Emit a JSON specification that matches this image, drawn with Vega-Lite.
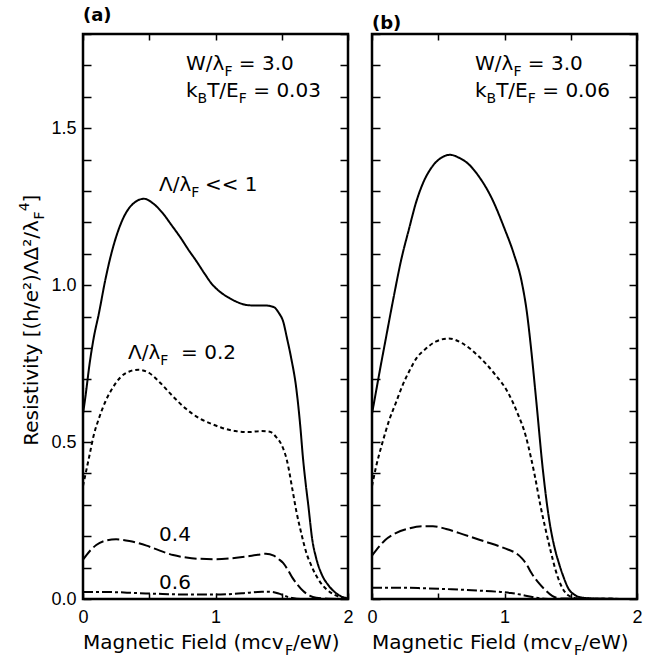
{
"$schema": "https://vega.github.io/schema/vega-lite/v6.json",
"background": "white",
"padding": {"left": 16, "top": 5, "right": 2, "bottom": 0},
"config": {
  "view": {"stroke": "black", "strokeWidth": 2.5},
  "axis": {"grid": false, "domain": false, "ticks": true, "tickColor": "black", "tickWidth": 1.5, "labelColor": "black", "labelFont": "Liberation Sans", "labelFontSize": 18, "labelFlush": false, "labelOverlap": false, "title": null, "zindex": 2},
  "text": {"font": "DejaVu Sans", "color": "black"}
},
"datasets": {
  "curves": [
    {"p":"a","s":"s1","x":0,"y":0.59},{"p":"a","s":"s1","x":0.02,"y":0.65},{"p":"a","s":"s1","x":0.05,"y":0.75},{"p":"a","s":"s1","x":0.08,"y":0.83},{"p":"a","s":"s1","x":0.12,"y":0.91},{"p":"a","s":"s1","x":0.17,"y":1.02},{"p":"a","s":"s1","x":0.22,"y":1.11},{"p":"a","s":"s1","x":0.30,"y":1.21},{"p":"a","s":"s1","x":0.38,"y":1.26},{"p":"a","s":"s1","x":0.46,"y":1.275},{"p":"a","s":"s1","x":0.53,"y":1.26},{"p":"a","s":"s1","x":0.60,"y":1.23},{"p":"a","s":"s1","x":0.67,"y":1.19},{"p":"a","s":"s1","x":0.73,"y":1.155},{"p":"a","s":"s1","x":0.80,"y":1.11},{"p":"a","s":"s1","x":0.85,"y":1.08},{"p":"a","s":"s1","x":0.92,"y":1.035},{"p":"a","s":"s1","x":0.97,"y":1.005},{"p":"a","s":"s1","x":1.03,"y":0.98},{"p":"a","s":"s1","x":1.10,"y":0.96},{"p":"a","s":"s1","x":1.17,"y":0.945},{"p":"a","s":"s1","x":1.23,"y":0.937},{"p":"a","s":"s1","x":1.30,"y":0.935},{"p":"a","s":"s1","x":1.38,"y":0.935},{"p":"a","s":"s1","x":1.44,"y":0.93},{"p":"a","s":"s1","x":1.48,"y":0.91},{"p":"a","s":"s1","x":1.51,"y":0.885},{"p":"a","s":"s1","x":1.54,"y":0.83},{"p":"a","s":"s1","x":1.57,"y":0.77},{"p":"a","s":"s1","x":1.61,"y":0.67},{"p":"a","s":"s1","x":1.64,"y":0.55},{"p":"a","s":"s1","x":1.66,"y":0.45},{"p":"a","s":"s1","x":1.68,"y":0.37},{"p":"a","s":"s1","x":1.70,"y":0.30},{"p":"a","s":"s1","x":1.73,"y":0.19},{"p":"a","s":"s1","x":1.76,"y":0.13},{"p":"a","s":"s1","x":1.80,"y":0.08},{"p":"a","s":"s1","x":1.85,"y":0.045},{"p":"a","s":"s1","x":1.90,"y":0.022},{"p":"a","s":"s1","x":1.95,"y":0.008},{"p":"a","s":"s1","x":2.0,"y":0.002},
    {"p":"a","s":"s2","x":0,"y":0.36},{"p":"a","s":"s2","x":0.02,"y":0.40},{"p":"a","s":"s2","x":0.05,"y":0.46},{"p":"a","s":"s2","x":0.08,"y":0.52},{"p":"a","s":"s2","x":0.12,"y":0.575},{"p":"a","s":"s2","x":0.17,"y":0.63},{"p":"a","s":"s2","x":0.22,"y":0.67},{"p":"a","s":"s2","x":0.28,"y":0.705},{"p":"a","s":"s2","x":0.35,"y":0.725},{"p":"a","s":"s2","x":0.42,"y":0.73},{"p":"a","s":"s2","x":0.50,"y":0.72},{"p":"a","s":"s2","x":0.58,"y":0.69},{"p":"a","s":"s2","x":0.68,"y":0.645},{"p":"a","s":"s2","x":0.78,"y":0.605},{"p":"a","s":"s2","x":0.88,"y":0.575},{"p":"a","s":"s2","x":0.97,"y":0.558},{"p":"a","s":"s2","x":1.05,"y":0.545},{"p":"a","s":"s2","x":1.15,"y":0.535},{"p":"a","s":"s2","x":1.25,"y":0.532},{"p":"a","s":"s2","x":1.35,"y":0.535},{"p":"a","s":"s2","x":1.41,"y":0.533},{"p":"a","s":"s2","x":1.46,"y":0.515},{"p":"a","s":"s2","x":1.50,"y":0.49},{"p":"a","s":"s2","x":1.54,"y":0.44},{"p":"a","s":"s2","x":1.58,"y":0.35},{"p":"a","s":"s2","x":1.61,"y":0.28},{"p":"a","s":"s2","x":1.65,"y":0.205},{"p":"a","s":"s2","x":1.68,"y":0.155},{"p":"a","s":"s2","x":1.73,"y":0.10},{"p":"a","s":"s2","x":1.78,"y":0.06},{"p":"a","s":"s2","x":1.84,"y":0.03},{"p":"a","s":"s2","x":1.89,"y":0.015},{"p":"a","s":"s2","x":1.95,"y":0.005},{"p":"a","s":"s2","x":2.0,"y":0.001},
    {"p":"a","s":"s3","x":0,"y":0.125},{"p":"a","s":"s3","x":0.05,"y":0.152},{"p":"a","s":"s3","x":0.10,"y":0.172},{"p":"a","s":"s3","x":0.17,"y":0.186},{"p":"a","s":"s3","x":0.25,"y":0.19},{"p":"a","s":"s3","x":0.35,"y":0.185},{"p":"a","s":"s3","x":0.48,"y":0.17},{"p":"a","s":"s3","x":0.58,"y":0.154},{"p":"a","s":"s3","x":0.68,"y":0.14},{"p":"a","s":"s3","x":0.78,"y":0.132},{"p":"a","s":"s3","x":0.88,"y":0.128},{"p":"a","s":"s3","x":1.0,"y":0.127},{"p":"a","s":"s3","x":1.1,"y":0.129},{"p":"a","s":"s3","x":1.23,"y":0.135},{"p":"a","s":"s3","x":1.32,"y":0.141},{"p":"a","s":"s3","x":1.38,"y":0.144},{"p":"a","s":"s3","x":1.44,"y":0.138},{"p":"a","s":"s3","x":1.48,"y":0.126},{"p":"a","s":"s3","x":1.51,"y":0.115},{"p":"a","s":"s3","x":1.55,"y":0.09},{"p":"a","s":"s3","x":1.58,"y":0.068},{"p":"a","s":"s3","x":1.62,"y":0.045},{"p":"a","s":"s3","x":1.66,"y":0.026},{"p":"a","s":"s3","x":1.71,"y":0.011},{"p":"a","s":"s3","x":1.76,"y":0.004},{"p":"a","s":"s3","x":1.85,"y":0.001},{"p":"a","s":"s3","x":2.0,"y":0.0},
    {"p":"a","s":"s4","x":0,"y":0.022},{"p":"a","s":"s4","x":0.2,"y":0.022},{"p":"a","s":"s4","x":0.4,"y":0.019},{"p":"a","s":"s4","x":0.6,"y":0.016},{"p":"a","s":"s4","x":0.8,"y":0.014},{"p":"a","s":"s4","x":1.0,"y":0.014},{"p":"a","s":"s4","x":1.2,"y":0.018},{"p":"a","s":"s4","x":1.35,"y":0.023},{"p":"a","s":"s4","x":1.42,"y":0.023},{"p":"a","s":"s4","x":1.48,"y":0.017},{"p":"a","s":"s4","x":1.53,"y":0.009},{"p":"a","s":"s4","x":1.58,"y":0.003},{"p":"a","s":"s4","x":1.65,"y":0.0},{"p":"a","s":"s4","x":2.0,"y":0.0},
    {"p":"b","s":"s1","x":0,"y":0.59},{"p":"b","s":"s1","x":0.03,"y":0.66},{"p":"b","s":"s1","x":0.06,"y":0.73},{"p":"b","s":"s1","x":0.10,"y":0.82},{"p":"b","s":"s1","x":0.165,"y":0.965},{"p":"b","s":"s1","x":0.22,"y":1.08},{"p":"b","s":"s1","x":0.28,"y":1.18},{"p":"b","s":"s1","x":0.33,"y":1.26},{"p":"b","s":"s1","x":0.38,"y":1.32},{"p":"b","s":"s1","x":0.45,"y":1.375},{"p":"b","s":"s1","x":0.52,"y":1.405},{"p":"b","s":"s1","x":0.59,"y":1.415},{"p":"b","s":"s1","x":0.66,"y":1.405},{"p":"b","s":"s1","x":0.73,"y":1.385},{"p":"b","s":"s1","x":0.80,"y":1.35},{"p":"b","s":"s1","x":0.90,"y":1.28},{"p":"b","s":"s1","x":1.0,"y":1.18},{"p":"b","s":"s1","x":1.07,"y":1.10},{"p":"b","s":"s1","x":1.13,"y":1.01},{"p":"b","s":"s1","x":1.17,"y":0.91},{"p":"b","s":"s1","x":1.20,"y":0.80},{"p":"b","s":"s1","x":1.24,"y":0.63},{"p":"b","s":"s1","x":1.29,"y":0.41},{"p":"b","s":"s1","x":1.34,"y":0.245},{"p":"b","s":"s1","x":1.38,"y":0.16},{"p":"b","s":"s1","x":1.41,"y":0.115},{"p":"b","s":"s1","x":1.45,"y":0.065},{"p":"b","s":"s1","x":1.48,"y":0.035},{"p":"b","s":"s1","x":1.53,"y":0.013},{"p":"b","s":"s1","x":1.58,"y":0.005},{"p":"b","s":"s1","x":1.70,"y":0.001},{"p":"b","s":"s1","x":2.0,"y":0.0},
    {"p":"b","s":"s2","x":0,"y":0.36},{"p":"b","s":"s2","x":0.03,"y":0.42},{"p":"b","s":"s2","x":0.08,"y":0.50},{"p":"b","s":"s2","x":0.13,"y":0.57},{"p":"b","s":"s2","x":0.18,"y":0.625},{"p":"b","s":"s2","x":0.23,"y":0.68},{"p":"b","s":"s2","x":0.28,"y":0.725},{"p":"b","s":"s2","x":0.34,"y":0.77},{"p":"b","s":"s2","x":0.40,"y":0.795},{"p":"b","s":"s2","x":0.48,"y":0.82},{"p":"b","s":"s2","x":0.58,"y":0.83},{"p":"b","s":"s2","x":0.68,"y":0.815},{"p":"b","s":"s2","x":0.80,"y":0.775},{"p":"b","s":"s2","x":0.92,"y":0.72},{"p":"b","s":"s2","x":1.03,"y":0.655},{"p":"b","s":"s2","x":1.10,"y":0.59},{"p":"b","s":"s2","x":1.16,"y":0.52},{"p":"b","s":"s2","x":1.20,"y":0.45},{"p":"b","s":"s2","x":1.23,"y":0.39},{"p":"b","s":"s2","x":1.27,"y":0.30},{"p":"b","s":"s2","x":1.31,"y":0.222},{"p":"b","s":"s2","x":1.35,"y":0.15},{"p":"b","s":"s2","x":1.38,"y":0.10},{"p":"b","s":"s2","x":1.42,"y":0.05},{"p":"b","s":"s2","x":1.48,"y":0.012},{"p":"b","s":"s2","x":1.55,"y":0.002},{"p":"b","s":"s2","x":2.0,"y":0.0},
    {"p":"b","s":"s3","x":0,"y":0.138},{"p":"b","s":"s3","x":0.05,"y":0.165},{"p":"b","s":"s3","x":0.10,"y":0.188},{"p":"b","s":"s3","x":0.18,"y":0.21},{"p":"b","s":"s3","x":0.28,"y":0.225},{"p":"b","s":"s3","x":0.38,"y":0.232},{"p":"b","s":"s3","x":0.46,"y":0.232},{"p":"b","s":"s3","x":0.56,"y":0.223},{"p":"b","s":"s3","x":0.66,"y":0.21},{"p":"b","s":"s3","x":0.76,"y":0.196},{"p":"b","s":"s3","x":0.86,"y":0.182},{"p":"b","s":"s3","x":0.96,"y":0.168},{"p":"b","s":"s3","x":1.03,"y":0.157},{"p":"b","s":"s3","x":1.09,"y":0.145},{"p":"b","s":"s3","x":1.13,"y":0.13},{"p":"b","s":"s3","x":1.17,"y":0.108},{"p":"b","s":"s3","x":1.20,"y":0.085},{"p":"b","s":"s3","x":1.25,"y":0.055},{"p":"b","s":"s3","x":1.31,"y":0.028},{"p":"b","s":"s3","x":1.36,"y":0.01},{"p":"b","s":"s3","x":1.42,"y":0.002},{"p":"b","s":"s3","x":2.0,"y":0.0},
    {"p":"b","s":"s4","x":0,"y":0.036},{"p":"b","s":"s4","x":0.2,"y":0.036},{"p":"b","s":"s4","x":0.4,"y":0.034},{"p":"b","s":"s4","x":0.6,"y":0.031},{"p":"b","s":"s4","x":0.8,"y":0.027},{"p":"b","s":"s4","x":0.95,"y":0.023},{"p":"b","s":"s4","x":1.05,"y":0.019},{"p":"b","s":"s4","x":1.12,"y":0.014},{"p":"b","s":"s4","x":1.18,"y":0.009},{"p":"b","s":"s4","x":1.24,"y":0.004},{"p":"b","s":"s4","x":1.30,"y":0.001},{"p":"b","s":"s4","x":1.40,"y":0.0},{"p":"b","s":"s4","x":2.0,"y":0.0}
  ],
  "main": [
    {"p":"a","x":0.777,"y":1.686,"t":"W/λ"},{"p":"a","x":1.176,"y":1.686,"t":"= 3.0"},
    {"p":"a","x":0.777,"y":1.600,"t":"k"},{"p":"a","x":0.937,"y":1.600,"t":"T/E"},{"p":"a","x":1.285,"y":1.600,"t":"= 0.03"},
    {"p":"a","x":0.574,"y":1.30,"t":"Λ/λ"},{"p":"a","x":0.92,"y":1.30,"t":"<< 1"},
    {"p":"a","x":0.34,"y":0.765,"t":"Λ/λ"},{"p":"a","x":0.74,"y":0.765,"t":"= 0.2"},
    {"p":"a","x":0.574,"y":0.185,"t":"0.4"},{"p":"a","x":0.574,"y":0.032,"t":"0.6"},
    {"p":"a","x":0.0,"y":-0.16,"t":"Magnetic Field (mcv"},{"p":"a","x":1.585,"y":-0.16,"t":"/eW)"},
    {"p":"b","x":0.777,"y":1.686,"t":"W/λ"},{"p":"b","x":1.176,"y":1.686,"t":"= 3.0"},
    {"p":"b","x":0.777,"y":1.600,"t":"k"},{"p":"b","x":0.937,"y":1.600,"t":"T/E"},{"p":"b","x":1.285,"y":1.600,"t":"= 0.06"},
    {"p":"b","x":0.0,"y":-0.16,"t":"Magnetic Field (mcv"},{"p":"b","x":1.585,"y":-0.16,"t":"/eW)"}
  ],
  "sub": [
    {"p":"a","x":1.067,"y":1.686,"t":"F"},{"p":"a","x":0.865,"y":1.600,"t":"B"},{"p":"a","x":1.176,"y":1.600,"t":"F"},
    {"p":"a","x":0.817,"y":1.30,"t":"F"},{"p":"a","x":0.583,"y":0.765,"t":"F"},{"p":"a","x":1.525,"y":-0.16,"t":"F"},
    {"p":"b","x":1.067,"y":1.686,"t":"F"},{"p":"b","x":0.865,"y":1.600,"t":"B"},{"p":"b","x":1.176,"y":1.600,"t":"F"},
    {"p":"b","x":1.525,"y":-0.16,"t":"F"}
  ],
  "ymain": [
    {"x":-0.34,"y":0.488,"t":"Resistivity [(h/e²)ΛΔ²/λ"},{"x":-0.34,"y":1.263,"t":"]"}
  ],
  "ysub": [{"x":-0.34,"y":1.209,"t":"F"}],
  "ysup": [{"x":-0.34,"y":1.235,"t":"4"}]
},
"spacing": 10,
"hconcat": [
  {
    "width": 265, "height": 565,
    "title": {"text": "(a)", "anchor": "start", "frame": "group", "font": "DejaVu Sans", "fontSize": 18, "fontWeight": "bold", "offset": 0, "color": "black"},
    "resolve": {"axis": {"x": "independent", "y": "independent"}},
    "layer": [
      {"data": {"name": "curves"}, "transform": [{"filter": "datum.p == 'a'"}],
       "mark": {"type": "line", "color": "black", "strokeWidth": 2, "interpolate": "monotone"},
       "encoding": {
         "x": {"field": "x", "type": "quantitative", "scale": {"domain": [0, 2], "nice": false, "zero": false},
               "axis": {"orient": "bottom", "offset": -6, "values": [0, 0.5, 1, 1.5, 2], "tickSize": 6, "labelPadding": 9, "labelExpr": "datum.value % 1 == 0 ? format(datum.value, 'd') : ''"}},
         "y": {"field": "y", "type": "quantitative", "scale": {"domain": [0, 1.8], "nice": false, "zero": false},
               "axis": {"orient": "left", "offset": -8, "values": [0,0.1,0.2,0.3,0.4,0.5,0.6,0.7,0.8,0.9,1.0,1.1,1.2,1.3,1.4,1.5,1.6,1.7,1.8], "tickSize": 8, "labelPadding": 7, "labelExpr": "abs(datum.value*2 - round(datum.value*2)) < 0.01 ? format(datum.value, '.1f') : ''"}},
         "strokeDash": {"field": "s", "type": "nominal", "scale": {"domain": ["s1","s2","s3","s4"], "range": [[1,0],[4,3],[12,4],[10,3,3,3]]}, "legend": null}
       }},
      {"data": {"name": "curves"}, "transform": [{"filter": "datum.p == 'a'"}],
       "mark": {"type": "line", "opacity": 0},
       "encoding": {
         "x": {"field": "x", "type": "quantitative", "scale": {"domain": [0, 2], "nice": false, "zero": false},
               "axis": {"orient": "top", "offset": -6, "values": [0, 0.5, 1, 1.5, 2], "tickSize": 6, "labels": false}},
         "y": {"field": "y", "type": "quantitative", "scale": {"domain": [0, 1.8], "nice": false, "zero": false},
               "axis": {"orient": "right", "offset": -8, "values": [0,0.1,0.2,0.3,0.4,0.5,0.6,0.7,0.8,0.9,1.0,1.1,1.2,1.3,1.4,1.5,1.6,1.7,1.8], "tickSize": 8, "labels": false}},
         "detail": {"field": "s"}
       }},
      {"data": {"name": "main"}, "transform": [{"filter": "datum.p == 'a'"}],
       "mark": {"type": "text", "align": "left", "baseline": "alphabetic", "fontSize": 20},
       "encoding": {
         "x": {"field": "x", "type": "quantitative", "scale": {"domain": [0, 2], "nice": false, "zero": false}, "axis": null},
         "y": {"field": "y", "type": "quantitative", "scale": {"domain": [0, 1.8], "nice": false, "zero": false}, "axis": null},
         "text": {"field": "t"}
       }},
      {"data": {"name": "sub"}, "transform": [{"filter": "datum.p == 'a'"}],
       "mark": {"type": "text", "align": "left", "baseline": "alphabetic", "fontSize": 14, "dy": 6},
       "encoding": {
         "x": {"field": "x", "type": "quantitative", "scale": {"domain": [0, 2], "nice": false, "zero": false}, "axis": null},
         "y": {"field": "y", "type": "quantitative", "scale": {"domain": [0, 1.8], "nice": false, "zero": false}, "axis": null},
         "text": {"field": "t"}
       }},
      {"data": {"name": "ymain"},
       "mark": {"type": "text", "align": "left", "baseline": "alphabetic", "fontSize": 20, "angle": 270},
       "encoding": {
         "x": {"field": "x", "type": "quantitative", "scale": {"domain": [0, 2], "nice": false, "zero": false}, "axis": null},
         "y": {"field": "y", "type": "quantitative", "scale": {"domain": [0, 1.8], "nice": false, "zero": false}, "axis": null},
         "text": {"field": "t"}
       }},
      {"data": {"name": "ysub"},
       "mark": {"type": "text", "align": "left", "baseline": "alphabetic", "fontSize": 14, "angle": 270, "dy": 6},
       "encoding": {
         "x": {"field": "x", "type": "quantitative", "scale": {"domain": [0, 2], "nice": false, "zero": false}, "axis": null},
         "y": {"field": "y", "type": "quantitative", "scale": {"domain": [0, 1.8], "nice": false, "zero": false}, "axis": null},
         "text": {"field": "t"}
       }},
      {"data": {"name": "ysup"},
       "mark": {"type": "text", "align": "left", "baseline": "alphabetic", "fontSize": 14, "angle": 270, "dy": -9},
       "encoding": {
         "x": {"field": "x", "type": "quantitative", "scale": {"domain": [0, 2], "nice": false, "zero": false}, "axis": null},
         "y": {"field": "y", "type": "quantitative", "scale": {"domain": [0, 1.8], "nice": false, "zero": false}, "axis": null},
         "text": {"field": "t"}
       }}
    ]
  },
  {
    "width": 265, "height": 565,
    "title": {"text": "(b)", "anchor": "start", "frame": "group", "font": "DejaVu Sans", "fontSize": 18, "fontWeight": "bold", "offset": 0, "color": "black"},
    "resolve": {"axis": {"x": "independent", "y": "independent"}},
    "layer": [
      {"data": {"name": "curves"}, "transform": [{"filter": "datum.p == 'b'"}],
       "mark": {"type": "line", "color": "black", "strokeWidth": 2, "interpolate": "monotone"},
       "encoding": {
         "x": {"field": "x", "type": "quantitative", "scale": {"domain": [0, 2], "nice": false, "zero": false},
               "axis": {"orient": "bottom", "offset": -6, "values": [0, 0.5, 1, 1.5, 2], "tickSize": 6, "labelPadding": 9, "labelExpr": "datum.value % 1 == 0 ? format(datum.value, 'd') : ''"}},
         "y": {"field": "y", "type": "quantitative", "scale": {"domain": [0, 1.8], "nice": false, "zero": false},
               "axis": {"orient": "left", "offset": -8, "values": [0,0.1,0.2,0.3,0.4,0.5,0.6,0.7,0.8,0.9,1.0,1.1,1.2,1.3,1.4,1.5,1.6,1.7,1.8], "tickSize": 8, "labels": false}},
         "strokeDash": {"field": "s", "type": "nominal", "scale": {"domain": ["s1","s2","s3","s4"], "range": [[1,0],[4,3],[12,4],[10,3,3,3]]}, "legend": null}
       }},
      {"data": {"name": "curves"}, "transform": [{"filter": "datum.p == 'b'"}],
       "mark": {"type": "line", "opacity": 0},
       "encoding": {
         "x": {"field": "x", "type": "quantitative", "scale": {"domain": [0, 2], "nice": false, "zero": false},
               "axis": {"orient": "top", "offset": -6, "values": [0, 0.5, 1, 1.5, 2], "tickSize": 6, "labels": false}},
         "y": {"field": "y", "type": "quantitative", "scale": {"domain": [0, 1.8], "nice": false, "zero": false},
               "axis": {"orient": "right", "offset": -8, "values": [0,0.1,0.2,0.3,0.4,0.5,0.6,0.7,0.8,0.9,1.0,1.1,1.2,1.3,1.4,1.5,1.6,1.7,1.8], "tickSize": 8, "labels": false}},
         "detail": {"field": "s"}
       }},
      {"data": {"name": "main"}, "transform": [{"filter": "datum.p == 'b'"}],
       "mark": {"type": "text", "align": "left", "baseline": "alphabetic", "fontSize": 20},
       "encoding": {
         "x": {"field": "x", "type": "quantitative", "scale": {"domain": [0, 2], "nice": false, "zero": false}, "axis": null},
         "y": {"field": "y", "type": "quantitative", "scale": {"domain": [0, 1.8], "nice": false, "zero": false}, "axis": null},
         "text": {"field": "t"}
       }},
      {"data": {"name": "sub"}, "transform": [{"filter": "datum.p == 'b'"}],
       "mark": {"type": "text", "align": "left", "baseline": "alphabetic", "fontSize": 14, "dy": 6},
       "encoding": {
         "x": {"field": "x", "type": "quantitative", "scale": {"domain": [0, 2], "nice": false, "zero": false}, "axis": null},
         "y": {"field": "y", "type": "quantitative", "scale": {"domain": [0, 1.8], "nice": false, "zero": false}, "axis": null},
         "text": {"field": "t"}
       }}
    ]
  }
]
}
